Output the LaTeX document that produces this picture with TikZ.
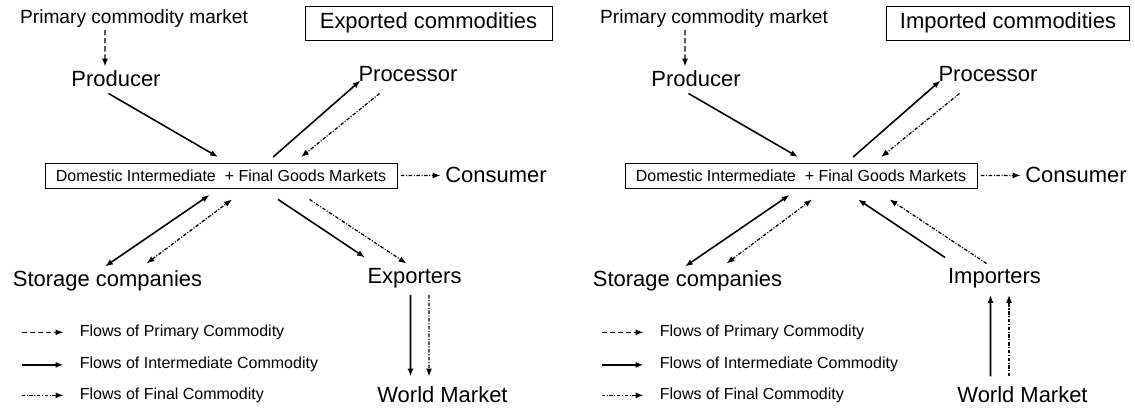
\documentclass[tikz,border=0pt]{standalone}
\usepackage{fontspec}
\setmainfont{Liberation Sans}
\usepackage{tikz}
\usetikzlibrary{arrows.meta}

\tikzset{
  flow/.style={line width=0.8pt, -{Latex[length=4.5pt,width=3.4pt]}},
  twoway/.style={{Latex[length=4.5pt,width=3.4pt]}-{Latex[length=4.5pt,width=3.4pt]}},
  primflow/.style={flow, dash pattern=on 3pt off 1.6pt},
  interflow/.style={flow, line width=0.9pt},
  finalflow/.style={flow, line width=0.7pt, dash pattern=on 2pt off 0.9pt on 0.6pt off 0.9pt},
  actor/.style={font=\fontsize{12.5}{14}\selectfont, inner sep=1pt, anchor=base},
  source/.style={font=\fontsize{10.9}{13}\selectfont, inner sep=1pt, anchor=base},
  mktbox/.style={draw, line width=0.5pt, font=\fontsize{9.1}{11}\selectfont, minimum width=7.04cm, minimum height=0.5cm, inner sep=0pt},
  titlebox/.style={draw, line width=0.5pt, font=\fontsize{12.5}{14}\selectfont, minimum width=4.94cm, minimum height=0.68cm, inner sep=0pt},
  legend/.style={font=\fontsize{9.1}{11}\selectfont, anchor=base west, inner sep=0pt},
}

\begin{document}
\begin{tikzpicture}
\useasboundingbox (0,0) rectangle (22.7,8.24);

% panel 1 - exported commodities
\node (pcmE) at (2.68,7.76) [source] {Primary commodity market};
\node (titE) at (8.57,7.78) [titlebox] {Exported commodities};
\node (prodE) at (2.32,6.50) [actor] {Producer};
\node (procE) at (8.16,6.60) [actor] {Processor};
\node (domE) at (4.42,4.73) [mktbox] {Domestic Intermediate\ \ + Final Goods Markets};
\node (consE) at (9.92,4.58) [actor] {Consumer};
\node (storE) at (2.15,2.51) [actor] {Storage companies};
\node (expoE) at (8.29,2.56) [actor] {Exporters};
\node (worldE) at (8.85,0.18) [actor] {World Market};

% arrows
\draw[primflow] ([xshift=-0.58cm]pcmE.south) -- ([xshift=-0.22cm,yshift=0.05cm]prodE.north);
\draw[interflow] ([shift={(-0.15,-0.13)}]prodE.base) -- ([shift={(3.47,0.11)}]domE.north west);
\draw[interflow] ([shift={(4.57,0.11)}]domE.north west) -- ([shift={(-0.95,0.03)}]procE.base);
\draw[finalflow] ([shift={(-0.57,-0.23)}]procE.base) -- ([shift={(5.13,0.11)}]domE.north west);
\draw[finalflow, shorten >=1.5pt] ([xshift=0.07cm]domE.east) -- (consE.west);
\draw[interflow,twoway] ([shift={(-0.05,0.40)}]storE.base) -- ([shift={(3.30,-0.13)}]domE.south west);
\draw[finalflow,twoway] ([shift={(0.78,0.46)}]storE.base) -- ([shift={(3.75,-0.22)}]domE.south west);
\draw[interflow] ([shift={(4.67,-0.22)}]domE.south west) -- ([shift={(-0.99,0.53)}]expoE.base);
\draw[finalflow] ([shift={(5.30,-0.22)}]domE.south west) -- ([shift={(-0.16,0.41)}]expoE.base);
\draw[interflow] ([shift={(-0.08,-0.22)}]expoE.base) -- ([shift={(-0.64,0.53)}]worldE.base);
\draw[finalflow] ([shift={(0.29,-0.22)}]expoE.base) -- ([shift={(-0.27,0.53)}]worldE.base);

% legend 1
\node (lgPE) at (1.59,1.51) [legend] {Flows of Primary Commodity};
\node (lgIE) at (1.59,0.86) [legend] {Flows of Intermediate Commodity};
\node (lgFE) at (1.59,0.25) [legend] {Flows of Final Commodity};
\draw[primflow] ([xshift=-1.16cm]lgPE.west) -- ([xshift=-0.32cm]lgPE.west);
\draw[interflow] ([xshift=-1.16cm]lgIE.west) -- ([xshift=-0.32cm]lgIE.west);
\draw[finalflow] ([xshift=-1.16cm]lgFE.west) -- ([xshift=-0.32cm]lgFE.west);

% panel 2 - imported commodities
\node (pcmI) at (14.28,7.76) [source] {Primary commodity market};
\node (titI) at (20.16,7.78) [titlebox, minimum width=4.86cm] {Imported commodities};
\node (prodI) at (13.92,6.50) [actor] {Producer};
\node (procI) at (19.76,6.60) [actor] {Processor};
\node (domI) at (16.02,4.73) [mktbox] {Domestic Intermediate\ \ + Final Goods Markets};
\node (consI) at (21.52,4.58) [actor] {Consumer};
\node (storI) at (13.75,2.51) [actor] {Storage companies};
\node (impoI) at (19.89,2.56) [actor] {Importers};
\node (worldI) at (20.45,0.18) [actor] {World Market};

% arrows
\draw[primflow] ([xshift=-0.58cm]pcmI.south) -- ([xshift=-0.22cm,yshift=0.05cm]prodI.north);
\draw[interflow] ([shift={(-0.15,-0.13)}]prodI.base) -- ([shift={(3.47,0.11)}]domI.north west);
\draw[interflow] ([shift={(4.57,0.11)}]domI.north west) -- ([shift={(-0.95,0.03)}]procI.base);
\draw[finalflow] ([shift={(-0.57,-0.23)}]procI.base) -- ([shift={(5.13,0.11)}]domI.north west);
\draw[finalflow, shorten >=1.5pt] ([xshift=0.07cm]domI.east) -- (consI.west);
\draw[interflow,twoway] ([shift={(-0.05,0.40)}]storI.base) -- ([shift={(3.30,-0.13)}]domI.south west);
\draw[finalflow,twoway] ([shift={(0.78,0.46)}]storI.base) -- ([shift={(3.75,-0.22)}]domI.south west);
\draw[interflow] ([shift={(-0.99,0.53)}]impoI.base) -- ([shift={(4.67,-0.22)}]domI.south west);
\draw[finalflow] ([shift={(-0.16,0.41)}]impoI.base) -- ([shift={(5.30,-0.22)}]domI.south west);
\draw[interflow] ([shift={(-0.64,0.53)}]worldI.base) -- ([shift={(-0.08,-0.22)}]impoI.base);
\draw[finalflow] ([shift={(-0.27,0.53)}]worldI.base) -- ([shift={(0.29,-0.22)}]impoI.base);

% legend 2
\node (lgPI) at (13.19,1.51) [legend] {Flows of Primary Commodity};
\node (lgII) at (13.19,0.86) [legend] {Flows of Intermediate Commodity};
\node (lgFI) at (13.19,0.25) [legend] {Flows of Final Commodity};
\draw[primflow] ([xshift=-1.16cm]lgPI.west) -- ([xshift=-0.32cm]lgPI.west);
\draw[interflow] ([xshift=-1.16cm]lgII.west) -- ([xshift=-0.32cm]lgII.west);
\draw[finalflow] ([xshift=-1.16cm]lgFI.west) -- ([xshift=-0.32cm]lgFI.west);
\end{tikzpicture}
\end{document}
